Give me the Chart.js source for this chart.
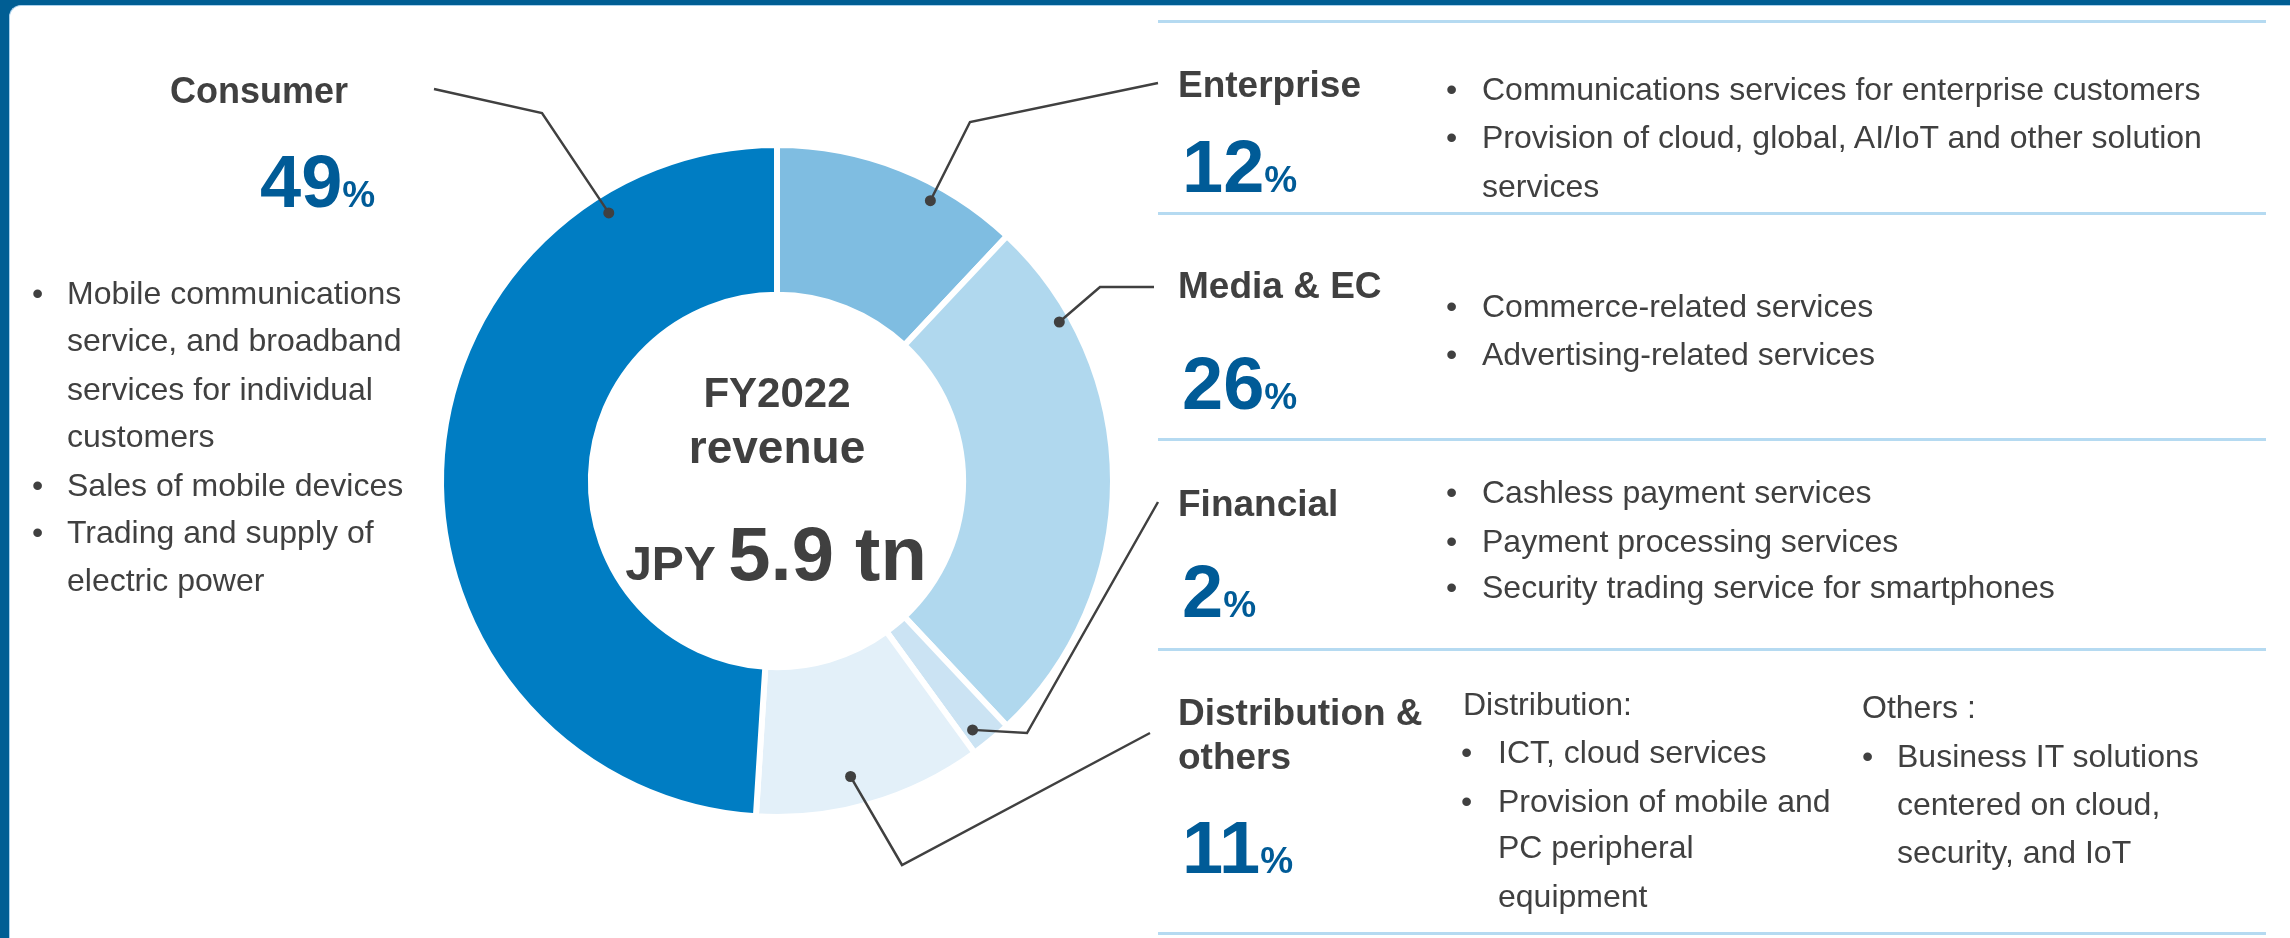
<!DOCTYPE html>
<html>
<head>
<meta charset="utf-8">
<script src="https://cdn.jsdelivr.net/npm/chart.js@4/dist/chart.umd.min.js"></script>
<style>
  html, body { margin: 0; padding: 0; }
  body { width: 2290px; height: 938px; background: #005e94; position: relative; overflow: hidden;
         font-family: "Liberation Sans", Arial, sans-serif; color: #404040; }
  #card { position: absolute; left: 9px; top: 5px; right: 0; bottom: 0; background: #fff;
          border-top-left-radius: 12px; border-left: 1px solid #a9d0ec; border-top: 1px solid #a9d0ec; }
  #chart { position: absolute; left: 0; top: 0; z-index: 1; }
  .t { position: absolute; white-space: nowrap; z-index: 2; }
  .rule { position: absolute; left: 1158px; width: 1108px; height: 3px; background: #b5daf1; z-index: 2; }
</style>
</head>
<body>
<div id="card"></div>
<canvas id="chart" width="2290" height="938"></canvas>

<script>
// segment shares of FY2022 revenue (clockwise from 12 o'clock)
const segments = ['Enterprise', 'Media & EC', 'Financial', 'Distribution & others', 'Consumer'];
const shares = [12, 26, 2, 11, 49];
const sliceColors = ['#7fbde1', '#b0d8ee', '#cbe3f3', '#e3f0f9', '#007dc3'];

const totalLabel = ['FY2022', 'revenue'];
const totalCurrency = 'JPY';
const totalValue = '5.9 tn';

const DARK = '#404040';
const BLUE = '#005b97';

// leader lines: end point near the title, a bend, then a dot on the slice
const leaders = [
    { from: [1158, 83], bend: [970, 122], at: 0.664, depth: 0.89 },
    { from: [1154, 287], bend: [1100, 287], at: 0.186, depth: 0.92 },
    { from: [1158, 502], bend: [1027, 733], at: 0.7, depth: 0.87 },
    { from: [1150, 733], bend: [902, 865], at: 0.556, depth: 0.79 },
    { from: [434, 89], bend: [542, 113], at: 0.818, depth: 0.87 }
];

const leaderPlugin = {
    id: 'leaders',
    afterDatasetsDraw(chart) {
        const ctx = chart.ctx;
        const arcs = chart.getDatasetMeta(0).data;
        leaders.forEach(function (l, i) {
            const a = arcs[i].getProps(['x', 'y', 'startAngle', 'endAngle', 'innerRadius', 'outerRadius'], true);
            const ang = a.startAngle + l.at * (a.endAngle - a.startAngle);
            const r = a.innerRadius + l.depth * (a.outerRadius - a.innerRadius);
            const px = a.x + Math.cos(ang) * r;
            const py = a.y + Math.sin(ang) * r;
            ctx.save();
            ctx.strokeStyle = DARK;
            ctx.lineWidth = 2.5;
            ctx.beginPath();
            ctx.moveTo(l.from[0], l.from[1]);
            ctx.lineTo(l.bend[0], l.bend[1]);
            ctx.lineTo(px, py);
            ctx.stroke();
            ctx.fillStyle = DARK;
            ctx.beginPath();
            ctx.arc(px, py, 5.5, 0, Math.PI * 2);
            ctx.fill();
            ctx.restore();
        });
    }
};

new Chart(document.getElementById('chart').getContext('2d'), {
    type: 'doughnut',
    data: {
        labels: segments,
        datasets: [{
            data: shares,
            backgroundColor: sliceColors,
            borderColor: '#ffffff',
            borderWidth: 6
        }]
    },
    options: {
        responsive: false,
        animation: false,
        cutout: '55.4%',
        layout: { padding: { left: 438, top: 142, right: 1174, bottom: 118 } },
        plugins: { legend: { display: false }, tooltip: { enabled: false } },
        events: []
    },
    plugins: [leaderPlugin]
});

// text helpers: x is the text origin, base is the baseline
function put(html, x, base, size, weight, color, align) {
    const d = document.createElement('div');
    d.className = 't';
    d.innerHTML = html;
    d.style.fontSize = size + 'px';
    d.style.lineHeight = '1';
    d.style.fontWeight = weight || 'normal';
    d.style.color = color || DARK;
    d.style.top = (base - 0.8465 * size) + 'px';
    if (align === 'center') {
        d.style.left = (x - 400) + 'px';
        d.style.width = '800px';
        d.style.textAlign = 'center';
    } else {
        d.style.left = x + 'px';
    }
    document.body.appendChild(d);
}
function pct(i, x, base) {
    put(shares[i] + '<span style="font-size:37px">%</span>', x, base, 74, 'bold', BLUE);
}
function bullet(x, base) { put('&bull;', x, base, 32); }

// centre of the ring
put(totalLabel[0], 777, 408, 42, 'bold', DARK, 'center');
put(totalLabel[1], 777, 463, 46, 'bold', DARK, 'center');
put('<span style="font-size:48px">' + totalCurrency + ' </span>' + totalValue, 776, 580, 76, 'bold', DARK, 'center');

// Consumer (left)
put(segments[4], 170, 103, 36, 'bold');
pct(4, 260, 208);
const consumerLines = [
    ['Mobile communications', true], ['service, and broadband', false], ['services for individual', false],
    ['customers', false], ['Sales of mobile devices', true], ['Trading and supply of', true], ['electric power', false]
];
const consumerBase = [304, 351, 400, 447, 496, 543, 591];
consumerLines.forEach(function (l, i) {
    if (l[1]) bullet(32, consumerBase[i]);
    put(l[0], 67, consumerBase[i], 32);
});

// Enterprise
put(segments[0], 1178, 97, 37, 'bold');
pct(0, 1182, 193);
bullet(1446, 100); put('Communications services for enterprise customers', 1482, 100, 32);
bullet(1446, 148); put('Provision of cloud, global, AI/IoT and other solution', 1482, 148, 32);
put('services', 1482, 197, 32);

// Media & EC
put(segments[1], 1178, 298, 37, 'bold');
pct(1, 1182, 410);
bullet(1446, 317); put('Commerce-related services', 1482, 317, 32);
bullet(1446, 365); put('Advertising-related services', 1482, 365, 32);

// Financial
put(segments[2], 1178, 516, 37, 'bold');
pct(2, 1182, 618);
bullet(1446, 503); put('Cashless payment services', 1482, 503, 32);
bullet(1446, 552); put('Payment processing services', 1482, 552, 32);
bullet(1446, 598); put('Security trading service for smartphones', 1482, 598, 32);

// Distribution & others
put('Distribution &amp;', 1178, 725, 37, 'bold');
put('others', 1178, 769, 37, 'bold');
pct(3, 1182, 874);
put('Distribution:', 1463, 715, 32);
bullet(1461, 763); put('ICT, cloud services', 1498, 763, 32);
bullet(1461, 812); put('Provision of mobile and', 1498, 812, 32);
put('PC peripheral', 1498, 858, 32);
put('equipment', 1498, 907, 32);
put('Others :', 1862, 718, 32);
bullet(1862, 767); put('Business IT solutions', 1897, 767, 32);
put('centered on cloud,', 1897, 815, 32);
put('security, and IoT', 1897, 863, 32);

// light blue separators on the right
[21, 213, 439, 649, 933].forEach(function (y) {
    const r = document.createElement('div');
    r.className = 'rule';
    r.style.top = (y - 1.5) + 'px';
    document.body.appendChild(r);
});
</script>
</body>
</html>
